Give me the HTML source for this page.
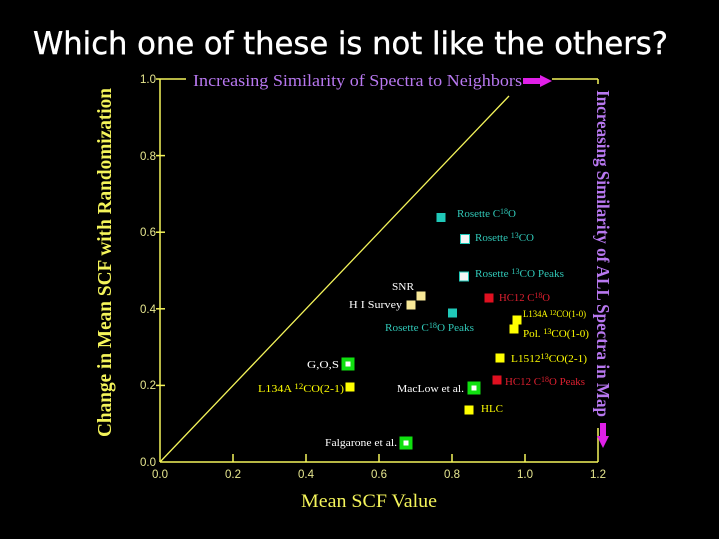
<!DOCTYPE html>
<html><head><meta charset="utf-8"><style>
html,body{margin:0;padding:0;background:#000;}
svg{display:block;}
</style></head><body>
<svg width="719" height="539" viewBox="0 0 719 539" xmlns="http://www.w3.org/2000/svg">
<rect width="719" height="539" fill="#000"/>
<!-- Title -->
<text x="33" y="54" font-family="DejaVu Sans, Liberation Sans, sans-serif" font-size="31" fill="#fff" stroke="#fff" stroke-width="0.4" textLength="635" lengthAdjust="spacingAndGlyphs">Which one of these is not like the others?</text>

<!-- Axes -->
<g stroke="#f4f45a" stroke-width="1.5" fill="none">
<line x1="160" y1="79" x2="160" y2="462"/>
<line x1="160" y1="462" x2="598" y2="462"/>
<line x1="160" y1="79" x2="186" y2="79"/>
<line x1="552" y1="79" x2="598" y2="79"/>
<line x1="598" y1="79" x2="598" y2="84"/>
<line x1="598" y1="428" x2="598" y2="462"/>
<line x1="156" y1="155.6" x2="165" y2="155.6"/>
<line x1="156" y1="232.2" x2="165" y2="232.2"/>
<line x1="156" y1="308.8" x2="165" y2="308.8"/>
<line x1="156" y1="385.4" x2="165" y2="385.4"/>
<line x1="156" y1="79" x2="160" y2="79"/>
<line x1="233" y1="454" x2="233" y2="462"/>
<line x1="306" y1="454" x2="306" y2="462"/>
<line x1="379" y1="454" x2="379" y2="462"/>
<line x1="452" y1="454" x2="452" y2="462"/>
<line x1="525" y1="454" x2="525" y2="462"/>
<line x1="160" y1="462" x2="509" y2="96" stroke-width="1.3"/>
</g>

<!-- tick labels -->
<g font-family="Liberation Sans, sans-serif" font-size="11.5" fill="#e8e890">
<text x="156" y="83" text-anchor="end">1.0</text>
<text x="156" y="160" text-anchor="end">0.8</text>
<text x="156" y="236" text-anchor="end">0.6</text>
<text x="156" y="313" text-anchor="end">0.4</text>
<text x="156" y="389" text-anchor="end">0.2</text>
<text x="156" y="466" text-anchor="end">0.0</text>
<text x="160" y="478" text-anchor="middle">0.0</text>
<text x="233" y="478" text-anchor="middle">0.2</text>
<text x="306" y="478" text-anchor="middle">0.4</text>
<text x="379" y="478" text-anchor="middle">0.6</text>
<text x="452" y="478" text-anchor="middle">0.8</text>
<text x="525" y="478" text-anchor="middle">1.0</text>
<text x="598" y="478" text-anchor="middle">1.2</text>
</g>

<!-- axis titles -->
<text x="301" y="507" font-family="Liberation Serif, serif" font-size="19" fill="#f4f45a" textLength="136" lengthAdjust="spacingAndGlyphs">Mean SCF Value</text>
<text transform="translate(111,437) rotate(-90)" x="0" y="0" font-family="Liberation Serif, serif" font-weight="bold" font-size="20" fill="#f4f45a" textLength="349" lengthAdjust="spacingAndGlyphs">Change in Mean SCF with Randomization</text>
<text x="193" y="86" font-family="Liberation Serif, serif" font-size="17" fill="#b878f0" textLength="329" lengthAdjust="spacingAndGlyphs">Increasing Similarity of Spectra to Neighbors</text>
<text transform="translate(597,90) rotate(90)" x="0" y="0" font-family="Liberation Serif, serif" font-weight="bold" font-size="18" fill="#b878f0" textLength="327" lengthAdjust="spacingAndGlyphs">Increasing Similarity of ALL Spectra in Map</text>

<!-- arrows -->
<polygon points="523,78 540,78 540,75 552,81 540,87 540,84 523,84" fill="#e020e8"/>
<polygon points="600,423 606,423 606,436 609,436 603,448 597,436 600,436" fill="#e020e8"/>

<!-- data squares -->
<g>
<rect x="436.5" y="213" width="9" height="9" fill="#20c8b8"/>
<rect x="460.5" y="234.5" width="9" height="9" fill="#f4f4f4" stroke="#20c8b8" stroke-width="1"/>
<rect x="459.5" y="272" width="9" height="9" fill="#f4f4f4" stroke="#20c8b8" stroke-width="1"/>
<rect x="416.5" y="291.5" width="9" height="9" fill="#f8e898"/>
<rect x="406.5" y="300.5" width="9" height="9" fill="#f8e898"/>
<rect x="448" y="308.5" width="9" height="9" fill="#20c8b8"/>
<rect x="484.5" y="293.5" width="9" height="9" fill="#e01020"/>
<rect x="512.5" y="315.5" width="9" height="9" fill="#ffff00"/>
<rect x="509.5" y="324.5" width="9" height="9" fill="#ffff00"/>
<rect x="495.5" y="353.5" width="9" height="9" fill="#ffff00"/>
<rect x="492.5" y="375.5" width="9" height="9" fill="#e01020"/>
<rect x="464.5" y="405.5" width="9" height="9" fill="#ffff00"/>
<rect x="345.5" y="382.5" width="9" height="9" fill="#ffff00"/>
<rect x="467.5" y="381.5" width="13" height="13" fill="#10e010"/>
<rect x="471.5" y="385.5" width="5" height="5" fill="#fff"/>
<rect x="399.5" y="436.5" width="13" height="13" fill="#10e010"/>
<rect x="403.5" y="440.5" width="5" height="5" fill="#fff"/>
<rect x="341.5" y="357.5" width="13" height="13" fill="#10e010"/>
<rect x="345.5" y="361.5" width="5" height="5" fill="#fff"/>
</g>

<!-- data labels -->
<g font-family="Liberation Serif, serif" font-size="11">
<text x="457" y="217" fill="#30c8b8" textLength="59" lengthAdjust="spacingAndGlyphs">Rosette C<tspan font-size="8" dy="-3">18</tspan><tspan dy="3">O</tspan></text>
<text x="475" y="241" fill="#30c8b8" textLength="59" lengthAdjust="spacingAndGlyphs">Rosette <tspan font-size="8" dy="-3">13</tspan><tspan dy="3">CO</tspan></text>
<text x="475" y="277" fill="#30c8b8" textLength="89" lengthAdjust="spacingAndGlyphs">Rosette <tspan font-size="8" dy="-3">13</tspan><tspan dy="3">CO Peaks</tspan></text>
<text x="392" y="290" fill="#fff" textLength="22" lengthAdjust="spacingAndGlyphs">SNR</text>
<text x="349" y="308" fill="#fff" textLength="53" lengthAdjust="spacingAndGlyphs">H I Survey</text>
<text x="385" y="331" fill="#30c8b8" textLength="89" lengthAdjust="spacingAndGlyphs">Rosette C<tspan font-size="8" dy="-3">18</tspan><tspan dy="3">O Peaks</tspan></text>
<text x="499" y="301" fill="#e02030" textLength="51" lengthAdjust="spacingAndGlyphs">HC12 C<tspan font-size="8" dy="-3">18</tspan><tspan dy="3">O</tspan></text>
<text x="523" y="317" fill="#ffff00" font-size="9" textLength="63" lengthAdjust="spacingAndGlyphs">L134A <tspan font-size="7" dy="-2">12</tspan><tspan dy="2">CO(1-0)</tspan></text>
<text x="523" y="337" fill="#ffff00" textLength="66" lengthAdjust="spacingAndGlyphs">Pol. <tspan font-size="8" dy="-3">13</tspan><tspan dy="3">CO(1-0)</tspan></text>
<text x="511" y="362" fill="#ffff00" textLength="76" lengthAdjust="spacingAndGlyphs">L1512<tspan font-size="8" dy="-3">13</tspan><tspan dy="3">CO(2-1)</tspan></text>
<text x="505" y="385" fill="#e02030" textLength="80" lengthAdjust="spacingAndGlyphs">HC12 C<tspan font-size="8" dy="-3">18</tspan><tspan dy="3">O Peaks</tspan></text>
<text x="397" y="392" fill="#fff" textLength="67" lengthAdjust="spacingAndGlyphs">MacLow et al.</text>
<text x="481" y="412" fill="#ffff00" textLength="22" lengthAdjust="spacingAndGlyphs">HLC</text>
<text x="325" y="446" fill="#fff" textLength="72" lengthAdjust="spacingAndGlyphs">Falgarone et al.</text>
<text x="307" y="368" fill="#fff" textLength="32" lengthAdjust="spacingAndGlyphs">G,O,S</text>
<text x="258" y="392" fill="#ffff00" textLength="86" lengthAdjust="spacingAndGlyphs">L134A <tspan font-size="8" dy="-3">12</tspan><tspan dy="3">CO(2-1)</tspan></text>
</g>
</svg>
</body></html>
